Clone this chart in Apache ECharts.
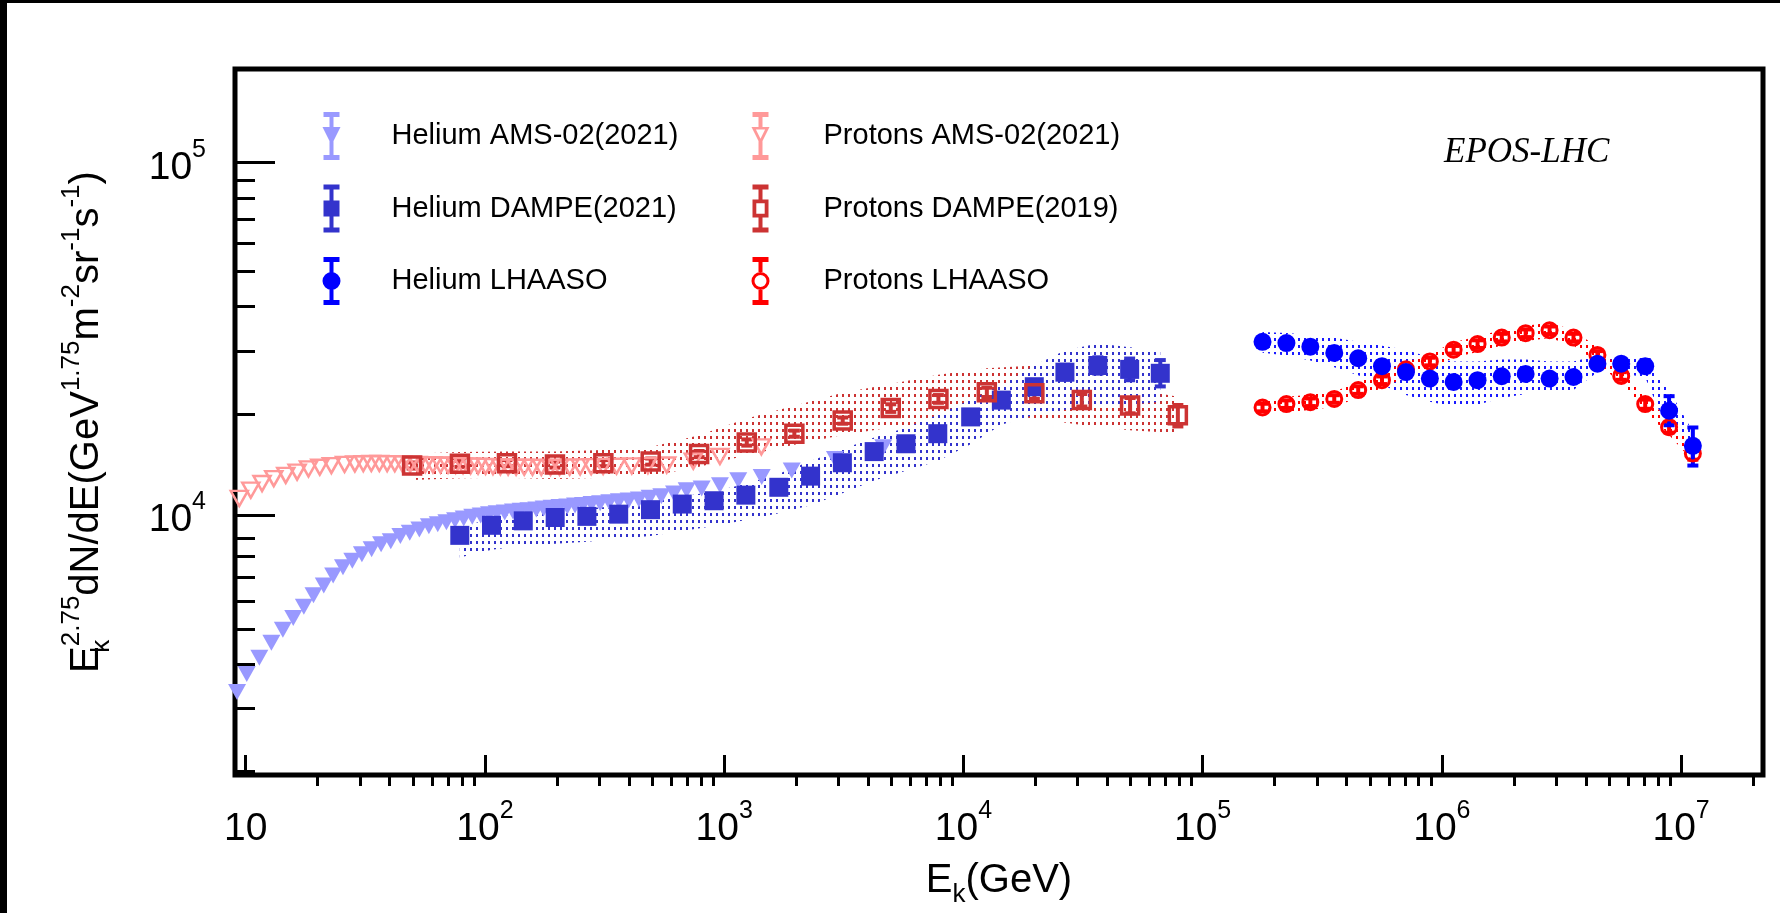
<!DOCTYPE html>
<html>
<head>
<meta charset="utf-8">
<script src="https://cdn.jsdelivr.net/npm/echarts@6/dist/echarts.min.js"></script>
<style>
  html, body { margin: 0; padding: 0; background: #fff; }
  #chart { width: 1780px; height: 913px; }
</style>
</head>
<body>
<div id="chart"></div>
<script>
// ---------------- data: E_k [GeV], E^2.75 dN/dE ----------------
const heAmsE = [9.2, 10.1, 11.4, 12.8, 14.3, 15.8, 17.5, 19.2, 21.2, 23.2, 25.5, 27.9, 30.6, 33.6, 36.8, 40.4, 44.3, 48.5, 53.2, 58.3,
  63.5, 69.0, 75.0, 81.5, 88.5, 96.0, 104, 112, 121, 131, 141, 152, 164, 176, 190, 205, 221, 238, 257, 279,
  303, 331, 363, 399, 440, 488, 546, 617, 697, 805, 960, 1145, 1435, 1916, 2904, 4625];
const heAmsF = [3140, 3530, 3930, 4330, 4720, 5090, 5480, 5910, 6300, 6730, 7100, 7410, 7730, 7980, 8250, 8420, 8700, 8890, 9080, 9280,
  9400, 9530, 9650, 9760, 9870, 9960, 10040, 10100, 10160, 10220, 10270, 10300, 10360, 10420, 10480, 10530, 10560, 10620, 10670, 10730,
  10780, 10850, 10920, 10980, 11060, 11180, 11300, 11500, 11750, 11880, 12130, 12530, 12810, 13360, 14410, 15560];

const pAmsE = [9.4, 10.5, 11.7, 13.1, 14.7, 16.4, 18.3, 20.4, 22.8, 25.9, 28.6, 31.0, 33.5, 36.2, 39.0, 42.0, 45.2, 48.7, 52.4, 56.3,
  60.6, 65.2, 70.1, 75.4, 81.0, 87.1, 93.6, 100.6, 108, 116, 125, 135, 146, 158, 172, 188, 205, 226, 250, 278,
  312, 355, 411, 480, 575, 743, 960, 1430];
const pAmsF = [11130, 11750, 12270, 12670, 12940, 13220, 13500, 13650, 13800, 13900, 13950, 13980, 13990, 13990, 13980, 13970, 13950, 13930, 13910, 13890,
  13870, 13850, 13830, 13810, 13790, 13770, 13750, 13730, 13710, 13690, 13670, 13660, 13650, 13640, 13640, 13640, 13650, 13660, 13680, 13700,
  13720, 13740, 13770, 13800, 13850, 14200, 14650, 15600];

const heDampeE = [78.5, 106.5, 144.6, 196.6, 266.8, 362.3, 492, 668, 907.5, 1232, 1692, 2297, 3120, 4237, 5754, 7814, 10725, 14410, 19785, 26570, 36480, 49540, 66530];
const heDampeF = [8744, 9337, 9614, 9827, 9899, 10044, 10342, 10728, 10965, 11373, 11972, 12877, 14056, 15118, 15913, 16996, 18967, 21168, 23107, 25407, 26547, 25880, 25226];
const heDampeErrLo = [8530, 9110, 9380, 9590, 9660, 9800, 10090, 10470, 10700, 11100, 11680, 12560, 13710, 14740, 15480, 16500, 18350, 20400, 22150, 24200, 25170, 24100, 23150];
const heDampeErrHi = [8960, 9570, 9850, 10070, 10140, 10290, 10600, 10990, 11230, 11650, 12270, 13200, 14410, 15500, 16360, 17510, 19610, 21960, 24100, 26670, 28000, 27780, 27500];
const heDampeBandLo = [7570, 7965, 8173, 8280, 8390, 8550, 8710, 9000, 9290, 9660, 10110, 10640, 11510, 12510, 13330, 14220, 15860, 18030, 19240, 19880, 20280, 20540, 20950];
const heDampeBandHi = [9180, 9790, 10110, 10240, 10440, 10570, 10850, 11280, 11650, 12250, 13080, 14220, 15360, 16590, 17680, 19230, 21210, 23330, 26540, 29270, 30640, 29900, 29270];

const pDampeE = [49.6, 78.6, 123.6, 196.2, 312.6, 493.2, 785.6, 1243, 1965, 3130, 4969, 7863, 12530, 19800, 31260, 49740, 78790];
const pDampeF = [13804, 13955, 14016, 13894, 14016, 14163, 14880, 16046, 16996, 18516, 20099, 21338, 22278, 22131, 21168, 20440, 19160];
const pDampeErrLo = [13530, 13680, 13740, 13620, 13740, 13880, 14580, 15720, 16660, 18140, 19600, 20800, 21600, 21350, 20300, 19420, 17820];
const pDampeErrHi = [14080, 14230, 14300, 14170, 14300, 14450, 15180, 16370, 17340, 18890, 20600, 21880, 22950, 22900, 22030, 21460, 20500];
const pDampeBandLo = [12560, 12700, 12750, 12640, 12750, 12890, 13690, 14760, 15810, 16850, 17690, 18350, 19160, 18810, 17990, 17370, 17050];
const pDampeBandHi = [14910, 15070, 15140, 15140, 15280, 15580, 16810, 18770, 20400, 22220, 23520, 24970, 26070, 26560, 24770, 22890, 21650];

const lhaasoE = [1.78e5, 2.24e5, 2.82e5, 3.55e5, 4.47e5, 5.62e5, 7.08e5, 8.91e5, 1.12e6, 1.41e6, 1.78e6, 2.24e6, 2.82e6, 3.55e6, 4.47e6, 5.62e6, 7.08e6, 8.91e6, 1.12e7];
const heLhaasoF = [30990, 30730, 30010, 28820, 27830, 26430, 25430, 24370, 23840, 24110, 24740, 25110, 24370, 24620, 26850, 26850, 26430, 19750, 15700];
const heLhaasoErrLo = [30250, 30000, 29300, 28130, 27160, 25800, 24820, 23790, 23270, 23530, 24150, 24510, 23780, 24000, 26050, 25990, 25400, 17960, 13800];
const heLhaasoErrHi = [31750, 31480, 30740, 29520, 28510, 27080, 26050, 24970, 24420, 24700, 25350, 25720, 24970, 25250, 27670, 27740, 27500, 21720, 17700];
const heLhaasoBandLo = [28870, 28320, 27430, 26220, 24900, 23350, 21890, 20930, 20260, 20520, 21470, 22030, 22320, 22610, 25380, 25220, 24580, 16920, 14690];
const heLhaasoBandHi = [33050, 32840, 32420, 31800, 30990, 30200, 29430, 27960, 27250, 27250, 27600, 27600, 27250, 27250, 28320, 28320, 27600, 22610, 17250];

const pLhaasoF = [20170, 20620, 20880, 21330, 22610, 24110, 25880, 27250, 29430, 30530, 31860, 32780, 33420, 31860, 28450, 24790, 20620, 17740, 14940];
const pLhaasoErrLo = [19670, 20110, 20360, 20800, 22050, 23510, 25240, 26570, 28700, 29770, 31070, 31960, 32590, 31070, 27740, 24170, 20000, 17110, 14340];
const pLhaasoErrHi = [20670, 21130, 21400, 21860, 23170, 24710, 26520, 27930, 30160, 31290, 32650, 33600, 34250, 32650, 29160, 25410, 21240, 18370, 15540];
const pLhaasoBandLo = [19160, 19590, 19840, 20260, 21480, 22900, 24590, 25890, 27960, 29000, 30270, 31140, 31750, 30270, 27030, 23550, 19590, 16850, 14190];
const pLhaasoBandHi = [21180, 21650, 21920, 22400, 23740, 25320, 27170, 28610, 30900, 32060, 33450, 34420, 35090, 33450, 29870, 26030, 21650, 18630, 15690];

// axis ranges and tick labels
const X_MIN = 9.02, X_MAX = 2.2e7;
const Y_MIN = 1824, Y_MAX = 1.844e5;
const xMajor = [10, 1e2, 1e3, 1e4, 1e5, 1e6, 1e7];
const xLabels = ['{b|10}', '{b|10}{s|2}', '{b|10}{s|3}', '{b|10}{s|4}', '{b|10}{s|5}', '{b|10}{s|6}', '{b|10}{s|7}'];
const yMajor = [1e4, 1e5];
const yLabels = ['{b|10}{s|4}', '{b|10}{s|5}'];

const names = {
  heAms: 'Helium AMS-02(2021)', heDampe: 'Helium DAMPE(2021)', heLhaaso: 'Helium LHAASO',
  pAms: 'Protons AMS-02(2021)', pDampe: 'Protons DAMPE(2019)', pLhaaso: 'Protons LHAASO'
};

// ---------------- helpers ----------------
function minorTicks(first, last) {
  const out = [];
  for (let d = first; d <= last; d++) {
    for (let m = 2; m <= 9; m++) out.push(Number((m * Math.pow(10, d)).toPrecision(6)));
  }
  return out;
}
const xMinor = minorTicks(1, 7);
const yMinor = minorTicks(3, 4);

// sparse dot hatch used for the uncertainty bands
function dotPattern(color) {
  const c = document.createElement('canvas');
  c.width = 6; c.height = 7;
  const g = c.getContext('2d');
  g.fillStyle = color;
  g.fillRect(2, 2, 2, 3);
  return { image: c, repeat: 'repeat' };
}

// shaded uncertainty band drawn as one polygon through the axis scales
function bandSeries(xs, lo, hi, color) {
  const fill = dotPattern(color);
  return {
    type: 'custom', silent: true, z: 1, clip: false,
    data: xs.map((x, i) => [x, lo[i], hi[i]]),
    encode: { x: 0, y: [1, 2] },
    renderItem(params, api) {
      if (params.dataIndex !== 0) return null;
      const up = xs.map((x, i) => api.coord([x, hi[i]]));
      const dn = xs.map((x, i) => api.coord([x, lo[i]])).reverse();
      return { type: 'polygon', shape: { points: up.concat(dn) }, style: { fill: fill } };
    }
  };
}

function errorSeries(xs, lo, hi, color) {
  return {
    type: 'custom', silent: true, z: 2, clip: false,
    data: xs.map((x, i) => [x, lo[i], hi[i]]),
    encode: { x: 0, y: [1, 2] },
    renderItem(params, api) {
      const x = api.value(0);
      const a = api.coord([x, api.value(2)]);
      const b = api.coord([x, api.value(1)]);
      const bw = 4, cw = 11, ct = 4;
      return {
        type: 'group', children: [
          { type: 'rect', shape: { x: a[0] - bw / 2, y: a[1], width: bw, height: b[1] - a[1] }, style: { fill: color } },
          { type: 'rect', shape: { x: a[0] - cw / 2, y: a[1] - ct / 2, width: cw, height: ct }, style: { fill: color } },
          { type: 'rect', shape: { x: b[0] - cw / 2, y: b[1] - ct / 2, width: cw, height: ct }, style: { fill: color } }
        ]
      };
    }
  };
}

function scatter(name, xs, ys, symbol, size, style, extra) {
  return Object.assign({
    name: name, type: 'scatter', z: 3,
    data: xs.map((x, i) => [x, ys[i]]),
    symbol: symbol, symbolSize: size,
    itemStyle: Object.assign({ opacity: 1 }, style),
    emphasis: { disabled: true }
  }, extra || {});
}

// legend icons: marker with error bar, 18 x 48 box
const CAPS = 'M1 0H17V5H1Z M1 43H17V48H1Z ';
const BAR_FULL = 'M7 5H11V43H7Z ';
const BAR_SPLIT = 'M7 5H11V15H7Z M7 33H11V43H7Z ';
const icons = {
  heAms: 'path://' + CAPS + BAR_FULL + 'M0 15H18L9 33Z',
  heDampe: 'path://' + CAPS + BAR_FULL + 'M1 16H17V32H1Z',
  heLhaaso: 'path://' + CAPS + BAR_FULL + 'M0 24A9 9 0 1 1 18 24A9 9 0 1 1 0 24Z',
  pAms: 'path://' + CAPS + 'M7 5H11V15H7Z M7 29H11V43H7Z ' + 'M0 15H18L9 33Z M4.4 17.6L9 26.8L13.6 17.6Z',
  pDampe: 'path://' + CAPS + BAR_SPLIT + 'M1 15H17V33H1Z M4.8 18.8V29.2H13.2V18.8Z',
  pLhaaso: 'path://' + CAPS + BAR_SPLIT + 'M0 24A9 9 0 1 1 18 24A9 9 0 1 1 0 24Z M3 24A6 6 0 1 0 15 24A6 6 0 1 0 3 24Z'
};
const colors = {
  heAms: '#9999ff', heDampe: '#3333cc', heLhaaso: '#0000ff',
  pAms: '#ff9999', pDampe: '#cc3333', pLhaaso: '#ff0000'
};
function legendItem(key) {
  return { name: names[key], icon: icons[key], itemStyle: { color: colors[key], borderWidth: 0, opacity: 1 } };
}

const FONT = '"Liberation Sans", Arial, Helvetica, sans-serif';
const NARROW = '"Liberation Sans Narrow", "Liberation Sans", Arial, sans-serif';
const tickRich = {
  b: { fontSize: 39, fontFamily: NARROW, color: '#000', lineHeight: 50, verticalAlign: 'bottom' },
  s: { fontSize: 25, fontFamily: NARROW, color: '#000', lineHeight: 25, verticalAlign: 'top' }
};
const titleRich = {
  p: { fontSize: 26, fontFamily: FONT, color: '#000', lineHeight: 26, verticalAlign: 'top' },
  k: { fontSize: 26, fontFamily: FONT, color: '#000', lineHeight: 26, verticalAlign: 'bottom' },
  kz: { fontSize: 26, fontFamily: FONT, color: '#000', lineHeight: 26, verticalAlign: 'bottom', width: 0 }
};

function labelFor(values, labels) {
  return function (v) {
    for (let i = 0; i < values.length; i++) {
      if (Math.abs(Math.log10(v) - Math.log10(values[i])) < 1e-6) return labels[i];
    }
    return '';
  };
}

const gridBox = { left: 235, right: 17, top: 69, bottom: 127 };

const option = {
  animation: false,
  backgroundColor: '#fff',
  // dark page edge along the left and top
  graphic: [
    { type: 'rect', left: 0, top: 0, shape: { width: 7, height: 913 }, style: { fill: '#000' }, silent: true },
    { type: 'rect', left: 0, top: 0, shape: { width: 1780, height: 3 }, style: { fill: '#000' }, silent: true }
  ],
  title: {
    text: 'EPOS-LHC', left: 1444, top: 135, padding: 0,
    textStyle: { fontFamily: '"Liberation Serif", "Times New Roman", serif', fontStyle: 'italic', fontWeight: 'normal', fontSize: 35, color: '#000' }
  },
  legend: [
    {
      orient: 'vertical', left: 322.5, top: 112, padding: 0, itemGap: 24.5,
      itemWidth: 18, itemHeight: 48, selectedMode: false,
      textStyle: { fontSize: 29, fontFamily: FONT, color: '#000', padding: [0, 0, 0, 46] },
      data: [legendItem('heAms'), legendItem('heDampe'), legendItem('heLhaaso')]
    },
    {
      orient: 'vertical', left: 751.5, top: 112, padding: 0, itemGap: 24.5,
      itemWidth: 18, itemHeight: 48, selectedMode: false,
      textStyle: { fontSize: 29, fontFamily: FONT, color: '#000', padding: [0, 0, 0, 49] },
      data: [legendItem('pAms'), legendItem('pDampe'), legendItem('pLhaaso')]
    }
  ],
  grid: [
    Object.assign({ show: true, borderColor: '#000', borderWidth: 5, backgroundColor: 'transparent' }, gridBox),
    Object.assign({ show: false }, gridBox)
  ],
  xAxis: [
    {
      type: 'log', logBase: 10, gridIndex: 0, min: X_MIN, max: X_MAX,
      axisLine: { show: false }, splitLine: { show: false },
      axisTick: { show: true, inside: true, length: 20, lineStyle: { color: '#000', width: 3 }, customValues: xMajor },
      axisLabel: { customValues: xMajor, formatter: labelFor(xMajor, xLabels), rich: tickRich, margin: 24 },
      name: 'E{k|k}(GeV)', nameLocation: 'middle', nameGap: 74,
      nameTextStyle: { fontSize: 40, fontFamily: FONT, color: '#000', lineHeight: 54, rich: titleRich }
    },
    {
      type: 'log', logBase: 10, gridIndex: 1, min: X_MIN, max: X_MAX,
      axisLine: { show: false }, splitLine: { show: false }, axisLabel: { show: false },
      axisTick: { show: true, inside: true, length: 10, lineStyle: { color: '#000', width: 3 }, customValues: xMinor }
    }
  ],
  yAxis: [
    {
      type: 'log', logBase: 10, gridIndex: 0, min: Y_MIN, max: Y_MAX,
      axisLine: { show: false }, splitLine: { show: false },
      axisTick: { show: true, inside: true, length: 40, lineStyle: { color: '#000', width: 3 }, customValues: yMajor },
      axisLabel: { customValues: yMajor, formatter: labelFor(yMajor, yLabels), rich: tickRich, margin: 29 },
      name: 'E{kz|k}{p|2.75}dN/dE(GeV{p|1.75}m{p|-2}sr{p|-1}s{p|-1})',
      nameLocation: 'middle', nameRotate: 90, nameGap: 120,
      nameTextStyle: { fontSize: 40, fontFamily: FONT, color: '#000', lineHeight: 56, rich: titleRich }
    },
    {
      type: 'log', logBase: 10, gridIndex: 1, min: Y_MIN, max: Y_MAX,
      axisLine: { show: false }, splitLine: { show: false }, axisLabel: { show: false },
      axisTick: { show: true, inside: true, length: 20, lineStyle: { color: '#000', width: 3 }, customValues: yMinor }
    }
  ],
  series: [
    bandSeries(pDampeE, pDampeBandLo, pDampeBandHi, '#cc3333'),
    bandSeries(heDampeE, heDampeBandLo, heDampeBandHi, '#3333cc'),
    bandSeries(lhaasoE, heLhaasoBandLo, heLhaasoBandHi, '#1a1aff'),
    bandSeries(lhaasoE, pLhaasoBandLo, pLhaasoBandHi, '#ff0000'),

    scatter(names.pAms, pAmsE, pAmsF, 'triangle', [17, 15],
      { color: 'rgba(0,0,0,0)', borderColor: colors.pAms, borderWidth: 2.5 }, { symbolRotate: 180 }),
    scatter(names.heAms, heAmsE, heAmsF, 'triangle', [18, 16],
      { color: colors.heAms }, { symbolRotate: 180 }),

    errorSeries(heDampeE, heDampeErrLo, heDampeErrHi, colors.heDampe),
    scatter(names.heDampe, heDampeE, heDampeF, 'rect', 19, { color: colors.heDampe }),

    errorSeries(pDampeE, pDampeErrLo, pDampeErrHi, colors.pDampe),
    scatter(names.pDampe, pDampeE, pDampeF, 'rect', 17,
      { color: 'rgba(0,0,0,0)', borderColor: colors.pDampe, borderWidth: 3.5 }),

    errorSeries(lhaasoE, pLhaasoErrLo, pLhaasoErrHi, colors.pLhaaso),
    scatter(names.pLhaaso, lhaasoE, pLhaasoF, 'circle', 15,
      { color: 'rgba(0,0,0,0)', borderColor: colors.pLhaaso, borderWidth: 3 }),

    errorSeries(lhaasoE, heLhaasoErrLo, heLhaasoErrHi, colors.heLhaaso),
    scatter(names.heLhaaso, lhaasoE, heLhaasoF, 'circle', 18, { color: colors.heLhaaso })
  ]
};

const chart = echarts.init(document.getElementById('chart'), null, { renderer: 'canvas' });
chart.setOption(option);
</script>
</body>
</html>
